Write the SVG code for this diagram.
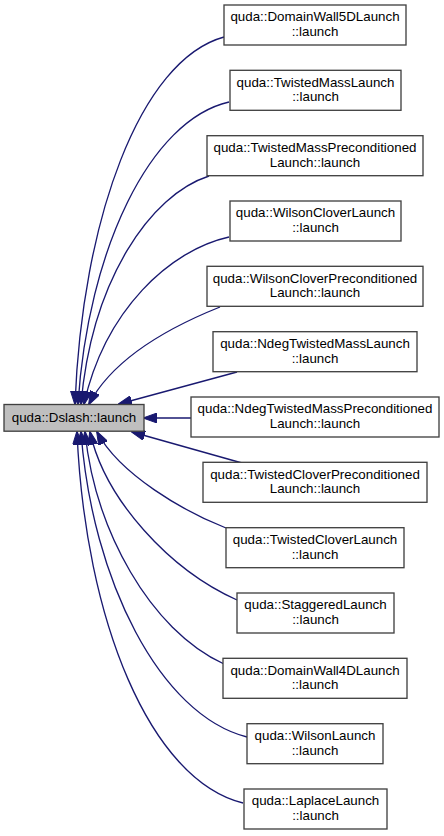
<svg xmlns="http://www.w3.org/2000/svg" width="444" height="836" viewBox="0 0 444 836">
<style>
.bg{fill:#ffffff}
.n rect{fill:#ffffff;stroke:#404040;stroke-width:1.33}
.n.main rect{fill:#bfbfbf}
.n text{font-family:"Liberation Sans",Arial,Helvetica,sans-serif;font-size:13.33px;fill:#000000;text-anchor:middle}
.e path{fill:none;stroke:#191970;stroke-width:1.33;marker-end:url(#arr)}
</style>
<defs>
<marker id="arr" markerUnits="userSpaceOnUse" markerWidth="14" markerHeight="10" viewBox="0 0 14 10" refX="13" refY="5" orient="auto">
<path d="M0,0 L14,5 L0,10 z" fill="#191970" stroke="#191970" stroke-width="1"/>
</marker>
</defs>
<rect class="bg" x="0" y="0" width="444" height="836"/>
<g id="edges" class="e">
<path d="M224,37 C140,60 82,220 75,404"/>
<path d="M229,102 C150,120 88,250 78,404"/>
<path d="M209,176 C150,195 92,280 81,404"/>
<path d="M229,237 C170,250 105,310 84,404"/>
<path d="M220,307 C175,325 115,355 89,404"/>
<path d="M237,372 L119,404"/>
<path d="M191,418 L144,418"/>
<path d="M242,463 L132,432"/>
<path d="M226,528 C185,512 120,475 97,432"/>
<path d="M237,600 C170,570 105,500 90,432"/>
<path d="M224,664 C150,630 95,530 85,432"/>
<path d="M247,737 C160,715 92,580 81,432"/>
<path d="M243,803 C150,780 85,620 77,432"/>
</g>
<g id="node_main" class="n main">
<rect x="4" y="404.5" width="140" height="26.7"/>
<text x="74" y="422">quda::Dslash::launch</text>
</g>
<g id="node_dw5d" class="n">
<rect x="224" y="5" width="182" height="40"/>
<text x="315" y="21.3">quda::DomainWall5DLaunch</text>
<text x="315" y="36">::launch</text>
</g>
<g id="node_tm" class="n">
<rect x="230" y="70.3" width="171" height="40"/>
<text x="315.5" y="86.6">quda::TwistedMassLaunch</text>
<text x="315.5" y="101.3">::launch</text>
</g>
<g id="node_tmpc" class="n">
<rect x="207" y="135.7" width="216" height="40"/>
<text x="315" y="152">quda::TwistedMassPreconditioned</text>
<text x="315" y="166.7">Launch::launch</text>
</g>
<g id="node_wc" class="n">
<rect x="230" y="201" width="171" height="40"/>
<text x="315.5" y="217.3">quda::WilsonCloverLaunch</text>
<text x="315.5" y="232">::launch</text>
</g>
<g id="node_wcpc" class="n">
<rect x="207" y="266.3" width="216" height="40"/>
<text x="315" y="282.6">quda::WilsonCloverPreconditioned</text>
<text x="315" y="297.3">Launch::launch</text>
</g>
<g id="node_ndeg" class="n">
<rect x="213" y="331.7" width="204" height="40"/>
<text x="315" y="348">quda::NdegTwistedMassLaunch</text>
<text x="315" y="362.7">::launch</text>
</g>
<g id="node_ndegpc" class="n">
<rect x="191" y="397" width="248" height="40"/>
<text x="315" y="413.3">quda::NdegTwistedMassPreconditioned</text>
<text x="315" y="428">Launch::launch</text>
</g>
<g id="node_tcpc" class="n">
<rect x="203" y="462.3" width="224" height="40"/>
<text x="315" y="478.6">quda::TwistedCloverPreconditioned</text>
<text x="315" y="493.3">Launch::launch</text>
</g>
<g id="node_tc" class="n">
<rect x="226" y="527.7" width="178" height="40"/>
<text x="315" y="544">quda::TwistedCloverLaunch</text>
<text x="315" y="558.7">::launch</text>
</g>
<g id="node_stag" class="n">
<rect x="237" y="593" width="157" height="40"/>
<text x="315.5" y="609.3">quda::StaggeredLaunch</text>
<text x="315.5" y="624">::launch</text>
</g>
<g id="node_dw4d" class="n">
<rect x="223" y="658.3" width="184" height="40"/>
<text x="315" y="674.6">quda::DomainWall4DLaunch</text>
<text x="315" y="689.3">::launch</text>
</g>
<g id="node_wilson" class="n">
<rect x="247" y="723.7" width="136" height="40"/>
<text x="315" y="740">quda::WilsonLaunch</text>
<text x="315" y="754.7">::launch</text>
</g>
<g id="node_laplace" class="n">
<rect x="244" y="789" width="143" height="40"/>
<text x="315.5" y="805.3">quda::LaplaceLaunch</text>
<text x="315.5" y="820">::launch</text>
</g>
</svg>
